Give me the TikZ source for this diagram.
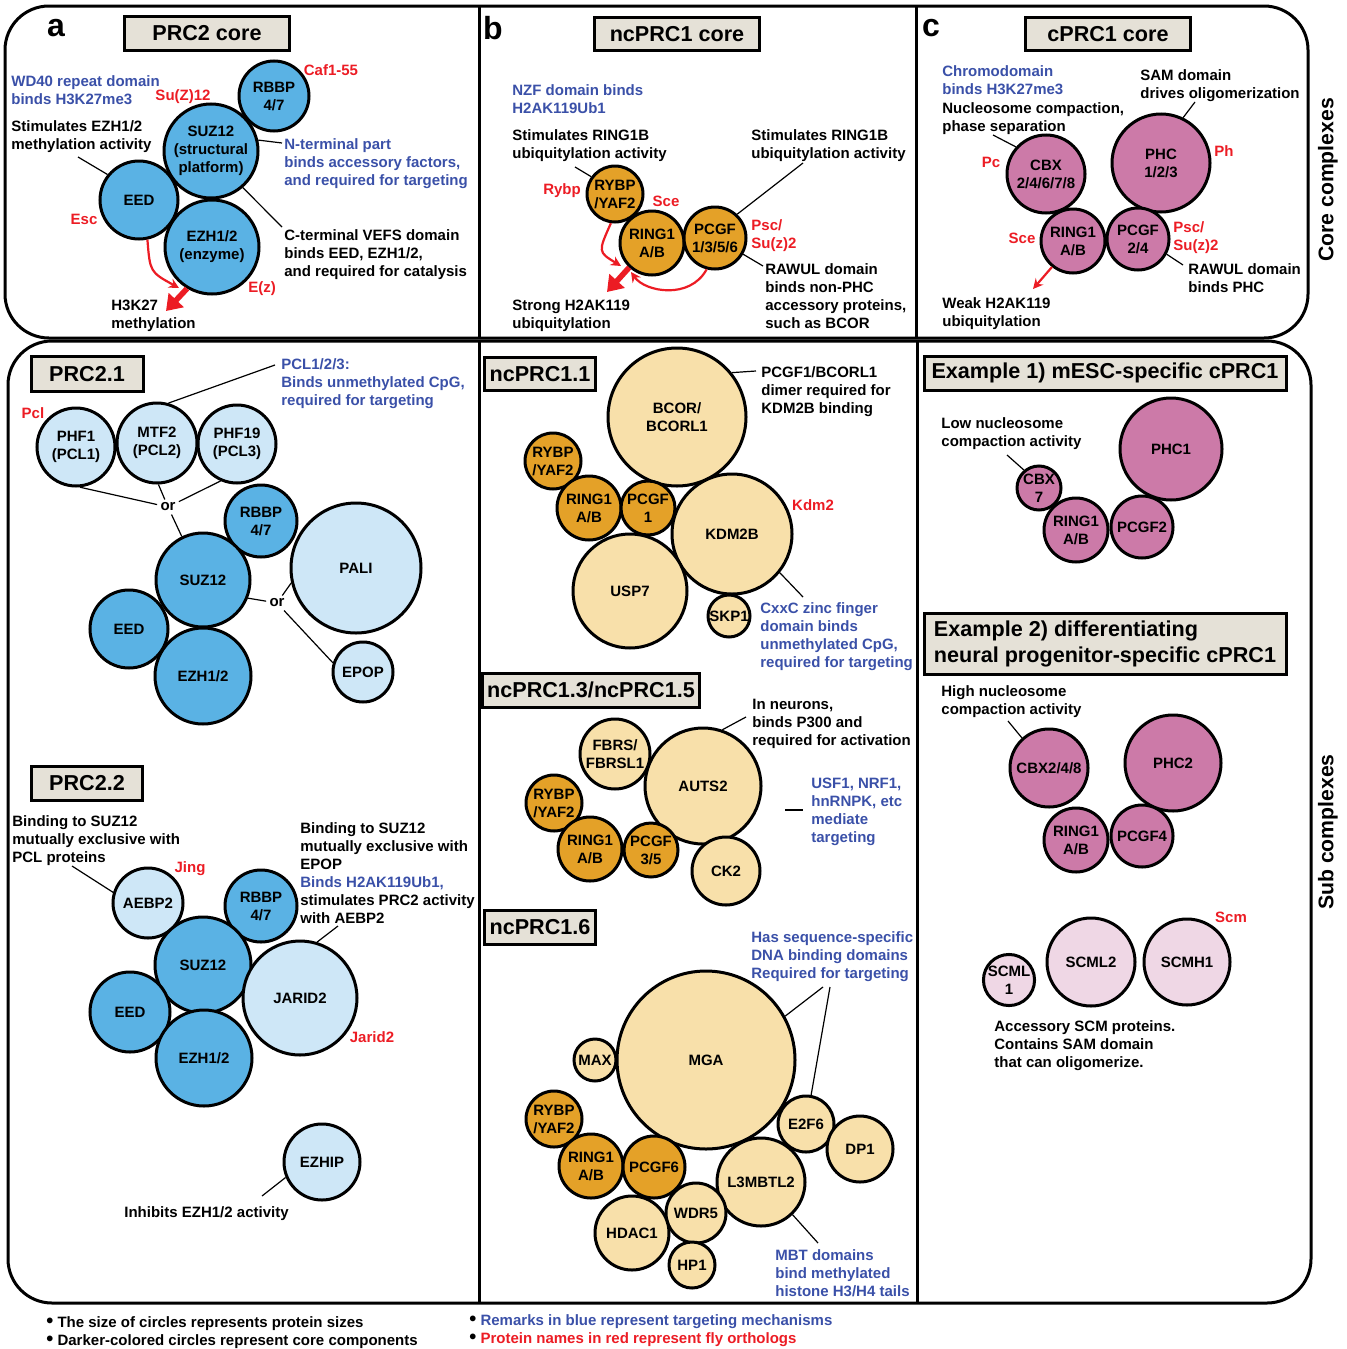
\documentclass[tikz,border=0pt]{standalone}
\usepackage{fontspec}
\setmainfont{Liberation Sans}
\usetikzlibrary{arrows.meta}
\definecolor{pdark}{RGB}{90,178,228}
\definecolor{plight}{RGB}{206,231,247}
\definecolor{odark}{RGB}{228,161,40}
\definecolor{olight}{RGB}{248,224,170}
\definecolor{mdark}{RGB}{204,122,168}
\definecolor{mlight}{RGB}{239,215,229}
\definecolor{boxfill}{RGB}{229,225,215}
\definecolor{myblue}{RGB}{58,80,168}
\definecolor{myred}{RGB}{236,28,36}
\newcommand{\bigbul}{\textcolor{black}{\fontsize{10}{9}\selectfont\raisebox{-0.4pt}{•}}}
\begin{document}
\begin{tikzpicture}[x=0.5pt,y=-0.5pt,
  tbase/.style={font=\fontsize{7.5}{9}\selectfont\bfseries, inner sep=0pt},
  txt/.style={tbase, align=left, anchor=west, yshift=-1.1pt},
  btxt/.style={txt, text=myblue},
  rlab/.style={tbase, text=myred},
  rtxt/.style={txt, text=myred},
  prot/.style={tbase, circle, draw, line width=1.5pt, align=center},
  pd/.style={prot, fill=pdark},
  pl/.style={prot, fill=plight},
  od/.style={prot, fill=odark},
  ol/.style={prot, fill=olight},
  md/.style={prot, fill=mdark},
  ml/.style={prot, fill=mlight},
  tbox/.style={draw, line width=1.5pt, fill=boxfill, font=\fontsize{10.8}{13}\selectfont\bfseries, inner sep=0pt},
  conn/.style={line width=0.6pt},
  panelframe/.style={line width=1.5pt, rounded corners=22pt},
  divider/.style={line width=1.5pt},
  plet/.style={font=\fontsize{16}{18}\selectfont\bfseries, inner sep=0pt},
  sidelab/.style={font=\fontsize{10.6}{12}\selectfont\bfseries, inner sep=0pt, rotate=90},
  ornode/.style={tbase, inner sep=1.5pt},
  redthin/.style={draw=myred, line width=1.1pt, -{Stealth[length=5pt,width=5pt]}},
  redthick/.style={draw=myred, line width=2.8pt, -{Triangle[length=7.5pt,width=10pt]}},
]
\useasboundingbox (0,0) rectangle (1346,1349);

% frames
\draw[panelframe] (5,6) rectangle (1308,338);
\draw[divider] (479,6) -- (479,338);
\draw[divider] (916,6) -- (916,338);
\draw[panelframe] (8,341) rectangle (1311,1303);
\draw[divider] (479,341) -- (479,1303);
\draw[divider] (917,341) -- (917,1303);

\node[sidelab] (sideA) at (1328,180) {Core complexes};
\node[sidelab] (sideB) at (1328,832) {Sub complexes};

% ---------- panel a
\node[plet] (la) at (56,28) {a};
\node[tbox, minimum width=82.5pt, minimum height=17pt] (ta) at (207,33) {PRC2 core};
\node[pd, minimum size=35pt] (arbbp) at (274,96) {RBBP\\4/7};
\node[pd, minimum size=47pt] (asuz) at (211,151) {SUZ12\\(structural\\platform)};
\node[pd, minimum size=39pt] (aeed) at (139,200) {EED};
\node[pd, minimum size=47pt] (aezh) at (212,247) {EZH1/2\\(enzyme)};
\node[rlab] (acaf) at (331,70) {Caf1-55};
\node[btxt] (awd) at (11,88) {WD40 repeat domain\\binds H3K27me3};
\node[rlab] (asuzf) at (183,97) {Su(Z)12};
\node[txt] (astim) at (11,134) {Stimulates EZH1/2\\methylation activity};
\node[btxt] (anterm) at (284,161) {N-terminal part\\binds accessory factors,\\and required for targeting};
\node[txt] (acterm) at (284,252) {C-terminal VEFS domain\\binds EED, EZH1/2,\\and required for catalysis};
\node[rlab] (aesc) at (84,219) {Esc};
\node[rlab] (aez) at (262,289) {E(z)};
\node[txt] (ah3) at (111,314) {H3K27\\methylation};
\coordinate (ac1) at (78,157);
\coordinate (ac2) at (282,143);
\coordinate (ac3) at (282,227);
\coordinate (ac4) at (166,311);
\draw[conn] (ac1) -- (aeed.141);
\draw[conn] (asuz.13) -- (ac2);
\draw[conn] (asuz.-49) -- (ac3);
\draw[redthin] (aeed.-78) .. controls (150,272) .. (179,288);
\draw[redthick] (aezh.-121) -- (ac4);

% ---------- panel b
\node[plet] (lb) at (493,28) {b};
\node[tbox, minimum width=82.5pt, minimum height=16.5pt] (tb) at (677,34) {ncPRC1 core};
\node[od, minimum size=28pt] (brybp) at (615,194) {RYBP\\/YAF2};
\node[od, minimum size=32pt] (bring) at (652,243) {RING1\\A/B};
\node[od, minimum size=31pt] (bpcgf) at (715,238) {PCGF\\1/3/5/6};
\node[btxt] (bnzf) at (512,97) {NZF domain binds\\H2AK119Ub1};
\node[txt] (bst1) at (512,143) {Stimulates RING1B\\ubiquitylation activity};
\node[txt] (bst2) at (751,143) {Stimulates RING1B\\ubiquitylation activity};
\node[rlab] (brf) at (562,191) {Rybp};
\node[rlab] (bsce) at (666,201) {Sce};
\node[rtxt] (bpsc) at (751,233) {Psc/\\Su(z)2};
\node[txt] (braw) at (765,294) {RAWUL domain\\binds non-PHC\\accessory proteins,\\such as BCOR};
\node[txt] (bstr) at (512,314) {Strong H2AK119\\ubiquitylation};
\coordinate (bc1) at (575,167);
\coordinate (bc2) at (803,163);
\coordinate (bc3) at (763,266);
\coordinate (bc4) at (607,292);
\draw[conn] (bc1) -- (brybp.144);
\draw[conn] (bc2) -- (bpcgf.47);
\draw[conn] (bpcgf.-30) -- (bc3);
\draw[redthin] (brybp.-98) .. controls (598,252) .. (621,266);
\draw[redthin] (bpcgf.-105) .. controls (690,300) and (645,292) .. (631,272);
\draw[redthick] (bring.-133) -- (bc4);

% ---------- panel c
\node[plet] (lc) at (931,28) {c};
\node[tbox, minimum width=82.5pt, minimum height=16.5pt] (tc) at (1108,34) {cPRC1 core};
\node[md, minimum size=39pt] (ccbx) at (1046,174) {CBX\\2/4/6/7/8};
\node[md, minimum size=49pt] (cphc) at (1161,163) {PHC\\1/2/3};
\node[md, minimum size=32pt] (cring) at (1073,241) {RING1\\A/B};
\node[md, minimum size=31pt] (cpcgf) at (1138,239) {PCGF\\2/4};
\node[btxt] (cchr) at (942,78) {Chromodomain\\binds H3K27me3};
\node[txt] (cnuc) at (942,116) {Nucleosome compaction,\\phase separation};
\node[txt] (csam) at (1140,83) {SAM domain\\drives oligomerization};
\node[rlab] (cpc) at (991,162) {Pc};
\node[rlab] (cph) at (1224,151) {Ph};
\node[rlab] (csce) at (1022,238) {Sce};
\node[rtxt] (cpsc) at (1173,235) {Psc/\\Su(z)2};
\node[txt] (craw) at (1188,276) {RAWUL domain\\binds PHC};
\node[txt] (cweak) at (942,311) {Weak H2AK119\\ubiquitylation};
\coordinate (cc1) at (993,135);
\coordinate (cc2) at (1195,102);
\coordinate (cc3) at (1183,265);
\coordinate (cc4) at (1033,289);
\draw[conn] (cc1) -- (ccbx.138);
\draw[conn] (cc2) -- (cphc.64);
\draw[conn] (cpcgf.-28) -- (cc3);
\draw[redthin] (cring.-129) -- (cc4);

% ---------- PRC2.1
\node[tbox, minimum width=56pt, minimum height=17.5pt] (t21) at (87,374) {PRC2.1};
\node[pl, minimum size=39pt] (dphf1) at (76,447) {PHF1\\(PCL1)};
\node[pl, minimum size=40pt] (dmtf2) at (157,443) {MTF2\\(PCL2)};
\node[pl, minimum size=39pt] (dphf19) at (237,444) {PHF19\\(PCL3)};
\node[pd, minimum size=36pt] (drbbp) at (261,521) {RBBP\\4/7};
\node[pd, minimum size=47pt] (dsuz) at (203,580) {SUZ12};
\node[pl, minimum size=65pt] (dpali) at (356,568) {PALI};
\node[pd, minimum size=39pt] (deed) at (129,629) {EED};
\node[pd, minimum size=48pt] (dezh) at (203,676) {EZH1/2};
\node[pl, minimum size=30pt] (depop) at (363,672) {EPOP};
\node[btxt] (dpcl) at (281,381) {PCL1/2/3:\\Binds unmethylated CpG,\\required for targeting};
\node[rlab] (dpclf) at (33,413) {Pcl};
\node[ornode] (dor1) at (168,507) {or};
\node[ornode] (dor2) at (277,603) {or};
\coordinate (dc1) at (275,365);
\draw[conn] (dmtf2.74) -- (dc1);
\draw[conn] (dphf1.-84) -- (dor1);
\draw[conn] (dmtf2.-88) -- (dor1);
\draw[conn] (dphf19.-114) -- (dor1);
\draw[conn] (dor1) -- (dsuz.116);
\draw[conn] (dsuz.-22) -- (dor2);
\draw[conn] (dor2) -- (dpali.193);
\draw[conn] (dor2) -- (depop.163);

% ---------- PRC2.2
\node[tbox, minimum width=55.5pt, minimum height=17pt] (t22) at (87,783) {PRC2.2};
\node[pl, minimum size=35pt] (eaebp) at (148,903) {AEBP2};
\node[pd, minimum size=36pt] (erbbp) at (261,906) {RBBP\\4/7};
\node[pd, minimum size=48pt] (esuz) at (203,965) {SUZ12};
\node[pd, minimum size=40pt] (eeed) at (130,1012) {EED};
\node[pd, minimum size=48pt] (eezh) at (204,1058) {EZH1/2};
\node[pl, minimum size=57pt] (ejarid) at (300,998) {JARID2};
\node[pl, minimum size=38pt] (eezhip) at (322,1162) {EZHIP};
\node[txt] (ebind1) at (12,838) {Binding to SUZ12\\mutually exclusive with\\PCL proteins};
\node[rlab] (ejing) at (190,869) {Jing};
\node[txt] (ebind2) at (300,870.5) {Binding to SUZ12\\mutually exclusive with\\EPOP\\\textcolor{myblue}{Binds H2AK119Ub1,}\\stimulates PRC2 activity\\with AEBP2};
\node[rlab] (ejf) at (372,1037) {Jarid2};
\node[txt] (einh) at (124,1211) {Inhibits EZH1/2 activity};
\coordinate (ec1) at (72,866);
\coordinate (ec2) at (338,926);
\coordinate (ec3) at (262,1196);
\draw[conn] (ec1) -- (eaebp.163);
\draw[conn] (ec2) -- (ejarid.73);
\draw[conn] (ec3) -- (eezhip.203);

% ---------- ncPRC1.1
\node[tbox, minimum width=55.5pt, minimum height=16.5pt] (t11) at (540,374) {ncPRC1.1};
\node[ol, minimum size=69pt] (fbcor) at (677,417) {BCOR/\\BCORL1};
\node[od, minimum size=28pt] (frybp) at (553,461) {RYBP\\/YAF2};
\node[od, minimum size=32pt] (fring) at (589,508) {RING1\\A/B};
\node[od, minimum size=27pt] (fpcgf) at (648,508) {PCGF\\1};
\node[ol, minimum size=60pt] (fkdm) at (732,534) {KDM2B};
\node[ol, minimum size=57pt] (fusp) at (630,591) {USP7};
\node[ol, minimum size=21pt] (fskp) at (729,616) {SKP1};
\node[txt] (fdim) at (761,389) {PCGF1/BCORL1\\dimer required for\\KDM2B binding};
\node[rlab] (fkf) at (813,505) {Kdm2};
\node[btxt] (fcxx) at (760,634) {CxxC zinc finger\\domain binds\\unmethylated CpG,\\required for targeting};
\coordinate (fc1) at (756,371);
\coordinate (fc2) at (803,597);
\draw[conn] (fbcor.39) -- (fc1);
\draw[conn] (fkdm.-39) -- (fc2);

% ---------- ncPRC1.3/1.5
\node[tbox, minimum width=108.5pt, minimum height=17pt] (t13) at (591,690) {ncPRC1.3/ncPRC1.5};
\node[ol, minimum size=35pt] (gfbrs) at (615,754) {FBRS/\\FBRSL1};
\node[ol, minimum size=58pt] (gauts) at (703,786) {AUTS2};
\node[od, minimum size=28pt] (grybp) at (554,803) {RYBP\\/YAF2};
\node[od, minimum size=32pt] (gring) at (590,849) {RING1\\A/B};
\node[od, minimum size=27pt] (gpcgf) at (651,850) {PCGF\\3/5};
\node[ol, minimum size=34pt] (gck2) at (726,871) {CK2};
\node[txt] (gneu) at (752,722) {In neurons,\\binds P300 and\\required for activation};
\node[btxt] (gusf) at (811,810) {USF1, NRF1,\\hnRNPK, etc\\mediate\\targeting};
\coordinate (gc1) at (746,717);
\coordinate (gc2) at (785,810);
\coordinate (gc3) at (803,810);
\draw[conn] (gauts.71) -- (gc1);
\draw[conn] (gc2) -- (gc3);

% ---------- ncPRC1.6
\node[tbox, minimum width=55.5pt, minimum height=17pt] (t16) at (540,927) {ncPRC1.6};
\node[ol, minimum size=89pt] (hmga) at (706,1060) {MGA};
\node[ol, minimum size=21pt] (hmax) at (595,1060) {MAX};
\node[ol, minimum size=28pt] (he2f6) at (806,1124) {E2F6};
\node[ol, minimum size=33pt] (hdp1) at (860,1149) {DP1};
\node[od, minimum size=28pt] (hrybp) at (554,1119) {RYBP\\/YAF2};
\node[od, minimum size=32pt] (hring) at (591,1166) {RING1\\A/B};
\node[od, minimum size=31pt] (hpcgf) at (654,1167) {PCGF6};
\node[ol, minimum size=44pt] (hl3) at (761,1182) {L3MBTL2};
\node[ol, minimum size=30pt] (hwdr5) at (696,1213) {WDR5};
\node[ol, minimum size=37pt] (hhdac) at (632,1233) {HDAC1};
\node[ol, minimum size=23pt] (hhp1) at (692,1265) {HP1};
\node[btxt] (hseq) at (751,954) {Has sequence-specific\\DNA binding domains\\Required for targeting};
\node[btxt] (hmbt) at (775,1271) {MBT domains\\bind methylated\\histone H3/H4 tails};
\coordinate (hc1) at (823,987);
\coordinate (hc2) at (830,987);
\coordinate (hc3) at (818,1243);
\draw[conn] (hmga.29) -- (hc1);
\draw[conn] (hc2) -- (he2f6.80);
\draw[conn] (hl3.-46) -- (hc3);

% ---------- cPRC1 examples
\node[tbox, minimum width=181pt, minimum height=17pt] (tx1) at (1105,373) {Example 1) mESC-specific cPRC1};
\node[md, minimum size=22pt] (icbx) at (1039,488) {CBX\\7};
\node[md, minimum size=51pt] (iphc) at (1171,449) {PHC1};
\node[md, minimum size=32pt] (iring) at (1076,530) {RING1\\A/B};
\node[md, minimum size=31pt] (ipcgf) at (1142,527) {PCGF2};
\node[txt] (ilow) at (941,431) {Low nucleosome\\compaction activity};
\coordinate (ic1) at (1007,455);
\draw[conn] (ic1) -- (icbx.130);

\node[tbox, minimum width=181pt, minimum height=30.5pt, align=left] (tx2) at (1105,644) {Example 2) differentiating\\neural progenitor-specific cPRC1};
\node[md, minimum size=39pt] (kcbx) at (1049,768) {CBX2/4/8};
\node[md, minimum size=48pt] (kphc) at (1173,763) {PHC2};
\node[md, minimum size=32pt] (kring) at (1076,840) {RING1\\A/B};
\node[md, minimum size=31pt] (kpcgf) at (1142,836) {PCGF4};
\node[txt] (khigh) at (941,699) {High nucleosome\\compaction activity};
\coordinate (kc1) at (1008,721);
\draw[conn] (kc1) -- (kcbx.132);

\node[ml, minimum size=25pt] (sscml1) at (1009,980) {SCML\\1};
\node[ml, minimum size=44pt] (sscml2) at (1091,962) {SCML2};
\node[ml, minimum size=43pt] (sscmh1) at (1187,962) {SCMH1};
\node[rlab] (sscm) at (1231,917) {Scm};
\node[txt] (sacc) at (994,1043) {Accessory SCM proteins.\\Contains SAM domain\\that can oligomerize.};

% ---------- footnotes
\node[txt] (fn1) at (46,1321) {\bigbul\ The size of circles represents protein sizes};
\node[txt] (fn2) at (46,1339) {\bigbul\ Darker-colored circles represent core components};
\node[btxt] (fn3) at (469,1319) {\bigbul\ Remarks in blue represent targeting mechanisms};
\node[rtxt] (fn4) at (469,1337) {\bigbul\ Protein names in red represent fly orthologs};
\end{tikzpicture}
\end{document}
